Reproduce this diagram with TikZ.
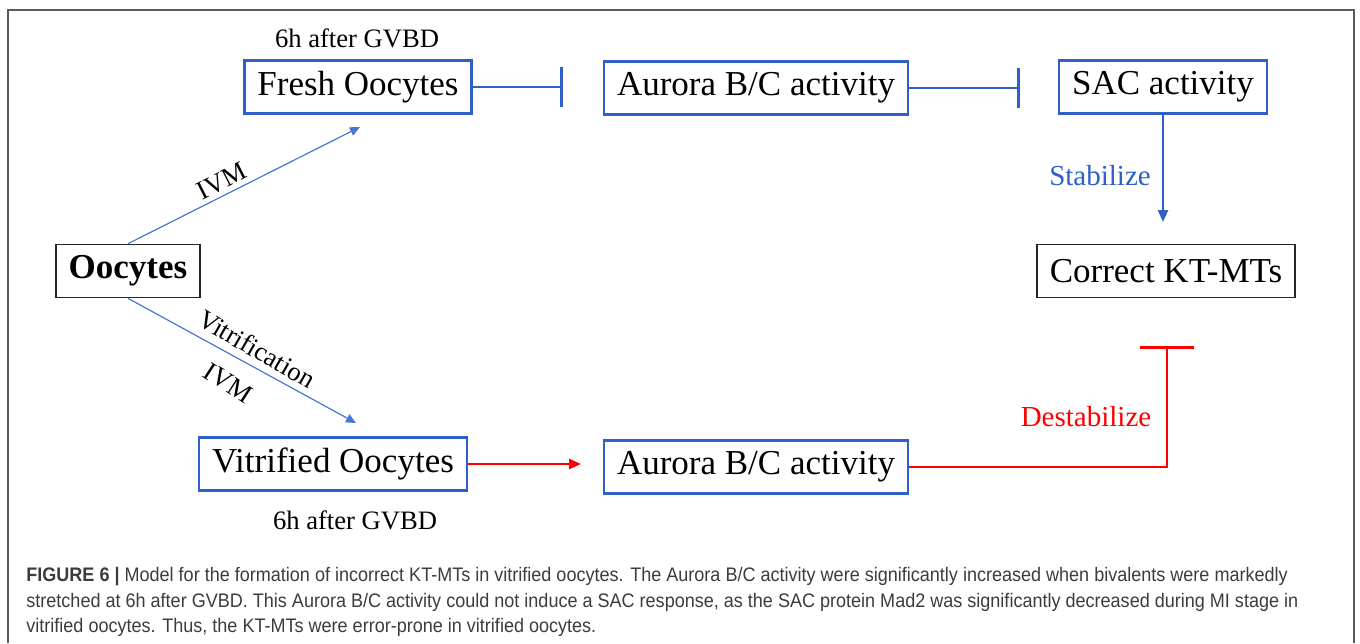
\documentclass[tikz,border=0pt]{standalone}
\usepackage{fontspec}
\setmainfont{Liberation Serif}
\newfontfamily\capfont[FakeStretch=0.92]{Liberation Sans}
\usepackage{tikz}
\usetikzlibrary{arrows.meta}

\definecolor{boxblue}{RGB}{47,95,200}
\definecolor{lineblue}{RGB}{72,118,210}
\definecolor{capgray}{RGB}{60,60,60}
\definecolor{framegray}{RGB}{90,90,90}

\tikzset{
    bluebox/.style={draw=boxblue, line width=1.2pt, inner xsep=6.5pt, minimum height=26.5pt, font=\fontsize{17.5}{20}\selectfont},
    blackbox/.style={draw=black!85, line width=0.8pt, inner xsep=6.5pt, minimum height=26.5pt, font=\fontsize{17.5}{20}\selectfont},
    note/.style={font=\fontsize{13.3}{15}\selectfont},
    inhblue/.style={boxblue, line width=1.3pt, -{Bar[width=20pt,line width=1.3pt]}},
    thinarrow/.style={lineblue, line width=0.6pt, -{Triangle[length=5pt,width=4.5pt]}}
}

\begin{document}
\begin{tikzpicture}[x=0.5pt,y=-0.5pt]
        \useasboundingbox (0,0) rectangle (1360,643);
        \draw[framegray, line width=0.9pt] (8,643) -- (8,10) -- (1354,10) -- (1354,643);
        % upper row
        \node[note] (topnote) at (357,38) {6h after GVBD};
        \node[bluebox] (fresh) at (358,87) {Fresh Oocytes};
        \node[bluebox] (auroraA) at (756,88) {Aurora B/C activity};
        \node[bluebox] (sac) at (1163,87) {SAC activity};
        \node[blackbox] (correct) at (1166,271) {Correct KT-MTs};
        \coordinate (barA) at (563,87);
        \coordinate (barB) at (1020,88);
        \draw[inhblue] (fresh.east) -- (barA);
        \draw[inhblue] (auroraA.east) -- (barB);
        \coordinate (stabEnd) at (1163,222);
        \draw[boxblue, line width=1.2pt, -{Triangle[length=6pt,width=5pt]}] (sac.south) -- (stabEnd);
        \node[note, text=boxblue, font=\fontsize{14.5}{16}\selectfont] (stab) at (1100,176) {Stabilize};
        % start
        \node[blackbox, font=\fontsize{17.5}{20}\bfseries\selectfont] (oocytes) at (128,271) {Oocytes};
        \coordinate (ivmEnd) at (360,127);
        \coordinate (vitEnd) at (356,423);
        \draw[thinarrow] (oocytes.north) -- (ivmEnd);
        \draw[thinarrow] (oocytes.south) -- (vitEnd);
        \node[note, rotate=27] (ivmA) at (222,181) {IVM};
        \node[note, rotate=-30] (vitlab) at (257,349) {Vitrification};
        \node[note, rotate=-33] (ivmB) at (228,383) {IVM};
        % lower row
        \node[bluebox] (vitri) at (333,464) {Vitrified Oocytes};
        \node[bluebox] (auroraB) at (756,467) {Aurora B/C activity};
        \node[note] (lownote) at (355,520) {6h after GVBD};
        \coordinate (redEnd) at (581,464);
        \draw[red, line width=1.3pt, -{Triangle[length=6pt,width=5pt]}] (vitri.east) -- (redEnd);
        \coordinate (destEnd) at (1167,346);
        \draw[red, line width=1.3pt, -{Bar[width=27pt,line width=1.3pt]}] (auroraB.east) -| (destEnd);
        \node[text=red, font=\fontsize{14.5}{16}\selectfont] (destab) at (1086,417) {Destabilize};
        % caption
        \node[anchor=north west, inner sep=0pt, text=capgray, align=left, font=\capfont\fontsize{9.8}{12.8}\selectfont] (caption) at (26,567)
            {{\bfseries FIGURE 6 |} Model for the formation of incorrect KT-MTs in vitrified oocytes. The Aurora B/C activity were significantly increased when bivalents were markedly\\
            stretched at 6h after GVBD. This Aurora B/C activity could not induce a SAC response, as the SAC protein Mad2 was significantly decreased during MI stage in\\
            vitrified oocytes. Thus, the KT-MTs were error-prone in vitrified oocytes.};
    \end{tikzpicture}
\end{document}
